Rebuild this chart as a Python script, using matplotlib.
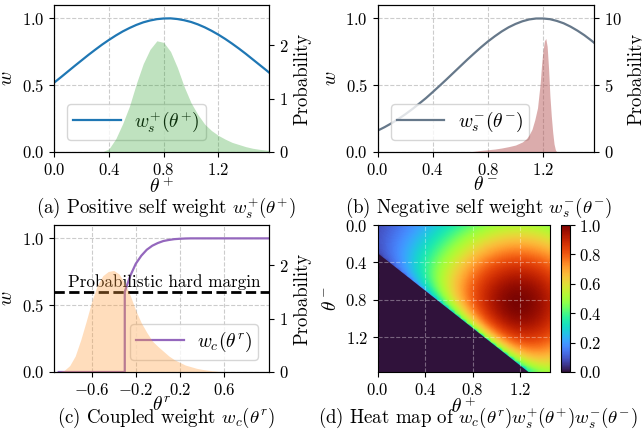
"""
Self / coupled weight curves with their probability densities, plus the heat map
"""

import numpy as np
import matplotlib
matplotlib.use('Agg')
import matplotlib.pyplot as plt

plt.rcParams.update({
    'font.family': 'serif',
    'font.serif': ['cmr10'],
    'mathtext.fontset': 'cm',
    'axes.formatter.use_mathtext': True,
    'axes.unicode_minus': True,
    'xtick.labelsize': 12,
    'ytick.labelsize': 12,
})

# angle grid used by both self weights (0 .. pi/2)
theta = [0.0, 0.05, 0.1, 0.15, 0.2, 0.25, 0.3, 0.35, 0.4, 0.45, 0.5, 0.55, 0.6, 0.65,
         0.7, 0.75, 0.8, 0.85, 0.9, 0.95, 1.0, 1.05, 1.1, 1.15, 1.2, 1.25, 1.3, 1.35,
         1.4, 1.45, 1.5, 1.55, 1.57]
w_plus = [0.520, 0.561, 0.603, 0.645, 0.686, 0.727, 0.766, 0.804, 0.839, 0.872, 0.902,
          0.928, 0.951, 0.970, 0.984, 0.994, 0.999, 1.000, 0.995, 0.986, 0.973, 0.955,
          0.933, 0.907, 0.878, 0.846, 0.811, 0.774, 0.735, 0.694, 0.653, 0.612, 0.595]
w_minus = [0.160, 0.186, 0.215, 0.247, 0.282, 0.320, 0.361, 0.403, 0.449, 0.496, 0.544,
           0.593, 0.642, 0.691, 0.738, 0.784, 0.827, 0.866, 0.902, 0.933, 0.958, 0.978,
           0.992, 0.999, 0.999, 0.994, 0.981, 0.963, 0.938, 0.908, 0.874, 0.835, 0.818]

# density of theta+ (green)
pos_x = [0.35, 0.4, 0.45, 0.5, 0.55, 0.6, 0.65, 0.7, 0.75, 0.8, 0.85, 0.9, 0.95, 1.0,
         1.05, 1.1, 1.15, 1.2, 1.25, 1.3, 1.35, 1.4, 1.45, 1.5, 1.57]
pos_p = [0.0, 0.06, 0.25, 0.53, 0.86, 1.28, 1.65, 1.92, 2.08, 2.05, 1.88, 1.58, 1.22,
         0.92, 0.70, 0.52, 0.40, 0.31, 0.24, 0.18, 0.14, 0.10, 0.07, 0.05, 0.03]

# density of theta- (red)
neg_x = [0.65, 0.7, 0.75, 0.8, 0.85, 0.9, 0.95, 1.0, 1.05, 1.08, 1.1, 1.12, 1.14, 1.16,
         1.18, 1.19, 1.2, 1.21, 1.22, 1.23, 1.24, 1.25, 1.26, 1.27, 1.28, 1.29, 1.3]
neg_p = [0.0, 0.05, 0.12, 0.17, 0.22, 0.30, 0.40, 0.52, 0.75, 1.0, 1.3, 1.7, 2.4, 3.3,
         5.2, 6.6, 7.6, 8.3, 8.5, 7.9, 6.3, 4.2, 2.7, 1.5, 0.6, 0.15, 0.0]

# coupled weight, theta_r = theta+ - theta-, hard margin at -0.3 (listed twice for the jump)
margin = -0.3
margin_w = 0.6
theta_r = [-0.9, -0.85, -0.8, -0.75, -0.7, -0.65, -0.6, -0.55, -0.5, -0.45, -0.4, -0.35,
           -0.3, -0.3, -0.25, -0.2, -0.15, -0.1, -0.05, 0.0, 0.05, 0.1, 0.15, 0.2, 0.25,
           0.3, 0.35, 0.4, 0.45, 0.5, 0.55, 0.6, 0.65, 0.7, 0.75, 0.8, 0.85, 0.9, 0.95, 1.0]
w_c = [0, 0, 0, 0, 0, 0, 0, 0, 0, 0, 0, 0,
       0, 0.6, 0.72, 0.81, 0.87, 0.915, 0.945, 0.965, 0.98, 0.988, 0.994, 0.997, 0.999,
       1, 1, 1, 1, 1, 1, 1, 1, 1, 1, 1, 1, 1, 1, 1]

# density of theta_r (orange)
rel_x = [-0.9, -0.85, -0.8, -0.75, -0.7, -0.65, -0.6, -0.55, -0.5, -0.45, -0.4, -0.35,
         -0.3, -0.25, -0.2, -0.15, -0.1, -0.05, 0.0, 0.05, 0.1, 0.15, 0.2, 0.25, 0.3,
         0.35, 0.4, 0.45, 0.5, 0.55, 0.6, 0.7]
rel_p = [0.0, 0.03, 0.12, 0.30, 0.60, 0.95, 1.32, 1.62, 1.80, 1.88, 1.90, 1.83, 1.66,
         1.43, 1.15, 0.92, 0.74, 0.58, 0.48, 0.39, 0.30, 0.23, 0.18, 0.13, 0.10, 0.07,
         0.05, 0.035, 0.022, 0.012, 0.005, 0.0]

# heat map: x axis (theta+) 0..1.45, y axis (theta-) 0..1.55
hm_x = np.array(theta[:30])
hm_y = np.array(theta[:32])
wc_lookup = dict(zip(np.round(theta_r, 2), w_c))
tr = np.round(hm_x[None, :] - hm_y[:, None], 2)
wc_grid = np.array([[wc_lookup.get(t, 0.0 if t < 0 else 1.0) for t in row] for row in tr])
heat = wc_grid * np.array(w_minus[:30])[None, :] * np.array(w_plus[:32])[:, None]

W, H = 642, 441
fig = plt.figure(figsize=(W / 100, H / 100), dpi=100)


def px(left, top, right, bottom):
    return [left / W, 1 - bottom / H, (right - left) / W, (bottom - top) / H]


grid_kw = dict(ls='--', color='#cccccc', lw=0.8)
LABEL = 14


def weight_panel(rect, x, y, color, label, xlabel, dx, dy, dcolor, dalpha, pmax, pticks,
                 xlim, xticks, leg_right):
    ax = fig.add_axes(rect)
    ax.plot(x, y, color=color, lw=1.6, label=label)
    ax.set_xlim(*xlim)
    ax.set_ylim(0, 1.1)
    ax.set_xticks(xticks)
    ax.set_yticks([0, 0.5, 1.0])
    ax.grid(**grid_kw)
    ax.set_xlabel(xlabel, fontsize=LABEL, labelpad=-1)
    ax.set_ylabel(r'$w$', fontsize=LABEL, labelpad=4)
    ax.legend(loc='lower right', bbox_to_anchor=(leg_right, 0.082), borderaxespad=0,
              fontsize=14, handlelength=2.45, handletextpad=0.7, borderpad=0.3)
    ax2 = ax.twinx()
    ax2.fill_between(dx, dy, color=dcolor, alpha=dalpha, lw=0)
    ax2.set_ylim(0, pmax)
    ax2.set_yticks(pticks)
    ax2.set_ylabel('Probability', fontsize=13.5)
    return ax


weight_panel(px(54.3, 5, 269, 152), theta, w_plus, '#1f77b4',
             r'$w_s^{+}(\theta^{+})$', r'$\theta^+$', pos_x, pos_p, '#2ca02c', 0.3,
             2.75, [0, 1, 2], (0, 1.57), [0, 0.4, 0.8, 1.2], 0.705)

weight_panel(px(377.7, 5, 594, 152), theta, w_minus, '#66788a',
             r'$w_s^{-}(\theta^{-})$', r'$\theta^-$', neg_x, neg_p, '#b04848', 0.45,
             11, [0, 5, 10], (0, 1.57), [0, 0.4, 0.8, 1.2], 0.701)

axc = weight_panel(px(54.3, 225, 269, 372), theta_r, w_c, '#9467bd', r'$w_c(\theta^r)$',
                   r'$\theta^r$', rel_x, rel_p, '#ff9f40', 0.35, 2.75, [0, 1, 2],
                   (-0.94, 1.01), [-0.6, -0.2, 0.2, 0.6], 0.95)
axc.axhline(margin_w, color='black', ls='--', lw=2)
axc.text(-0.815, margin_w + 0.015, 'Probabilistic hard margin', fontsize=12.3, va='bottom')

# heat map
axd = fig.add_axes(px(377.7, 225, 550, 372))
cmap = plt.get_cmap('turbo')
im = axd.imshow(heat, cmap=cmap, vmin=0, vmax=1, aspect='auto', interpolation='bilinear',
                extent=[hm_x[0] - 0.025, hm_x[-1] + 0.025, hm_y[-1] + 0.025, hm_y[0] - 0.025])
# region beyond the hard margin (theta- > theta+ - margin) is exactly zero
axd.fill_between(hm_x, hm_x - margin, 1.6, color=cmap(0.0), lw=0, zorder=1)
axd.set_xlim(0, 1.45)
axd.set_ylim(1.57, 0)
axd.set_xticks([0, 0.4, 0.8, 1.2])
axd.set_yticks([0, 0.4, 0.8, 1.2])
axd.grid(ls='--', color='white', alpha=0.35, lw=0.8)
axd.set_xlabel(r'$\theta^+$', fontsize=LABEL, labelpad=-1)
axd.set_ylabel(r'$\theta^-$', fontsize=LABEL, labelpad=4)
cax = fig.add_axes(px(560.7, 225, 569.5, 372))
cb = fig.colorbar(im, cax=cax)
cb.set_ticks([0, 0.2, 0.4, 0.6, 0.8, 1.0])
cb.outline.set_linewidth(0.8)

# captions (baseline positions in pixels)
caps = [(166, 213, r'(a) Positive self weight $w_s^{+}(\theta^{+})$'),
        (478.5, 213, r'(b) Negative self weight $w_s^{-}(\theta^{-})$'),
        (166, 423, r'(c) Coupled weight $w_c(\theta^r)$'),
        (478, 423, r'(d) Heat map of $w_c(\theta^r)w_s^{+}(\theta^{+})w_s^{-}(\theta^{-})$')]
for cx, cy, txt in caps:
    fig.text(cx / W, 1 - cy / H, txt, fontsize=13.6, ha='center', va='baseline')

fig.savefig('out.png', dpi=100)
